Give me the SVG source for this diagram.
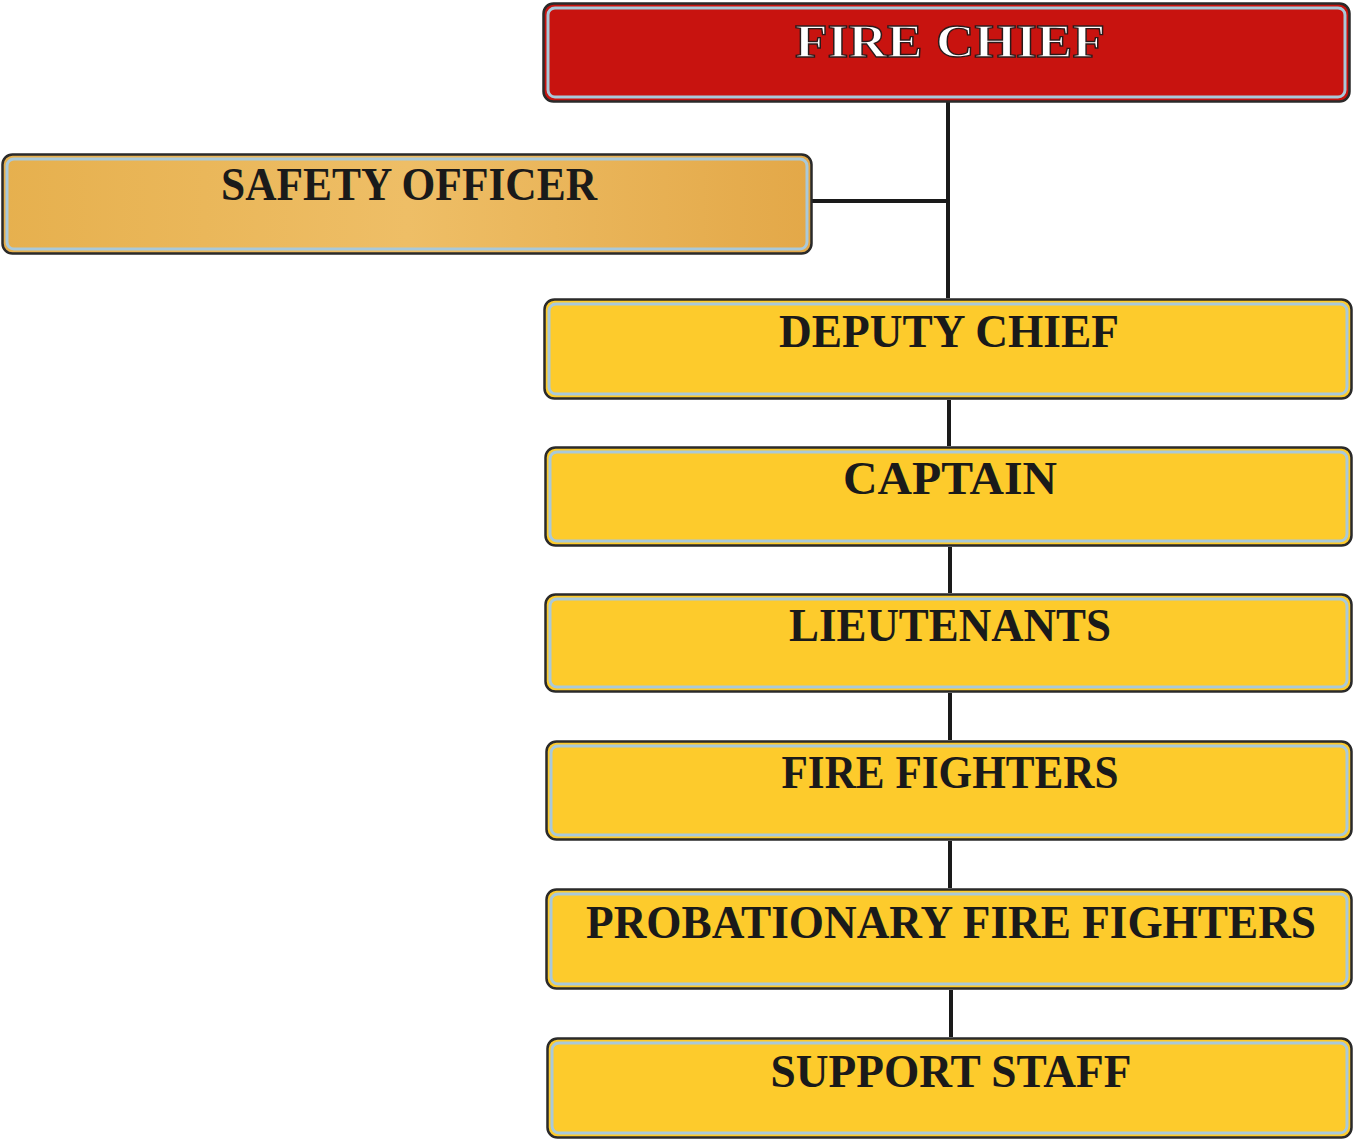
<svg xmlns="http://www.w3.org/2000/svg" width="1354" height="1140" viewBox="0 0 1354 1140">
<style>
.box{stroke:#2a2a2a;stroke-width:2.5}
.bev{fill:none;stroke:#a9c9da;stroke-width:3}
.y{fill:#fdcb2c}
.t{font-family:"Liberation Serif",serif;font-weight:bold;font-size:46px;fill:#1a1a1a;text-anchor:middle}
.w{fill:#ffffff;stroke:#2a1a1a;stroke-width:1.3}
.ln{stroke:#1a1a1a;stroke-width:4;fill:none}
</style>
<defs>
<linearGradient id="og" x1="0" y1="0" x2="1" y2="0">
<stop offset="0" stop-color="#e6b04e"/>
<stop offset="0.5" stop-color="#eebe66"/>
<stop offset="1" stop-color="#e3a848"/>
</linearGradient>
</defs>
<g id="connectors">
<path class="ln" d="M948 102 V298 M812 201 H948 M949 400 V446 M950 547 V593 M950 693 V740 M950 841 V888 M951 990 V1037"/>
</g>
<g id="fire-chief">
<rect class="box" x="543.5" y="3.5" width="806" height="98" rx="10" fill="#c8130f"/>
<rect class="bev" x="548" y="8" width="797" height="89" rx="7"/>
<text class="t w" x="950" y="57" textLength="310" lengthAdjust="spacingAndGlyphs">FIRE CHIEF</text>
</g>
<g id="safety-officer">
<rect class="box" x="2.5" y="154.5" width="809" height="99" rx="10" fill="url(#og)"/>
<rect class="bev" x="7" y="159" width="800" height="90" rx="7"/>
<text class="t" x="409" y="200" textLength="376" lengthAdjust="spacingAndGlyphs">SAFETY OFFICER</text>
</g>
<g id="deputy-chief">
<rect class="box y" x="544.5" y="299.5" width="807" height="99" rx="10"/>
<rect class="bev" x="549" y="304" width="798" height="90" rx="7"/>
<text class="t" x="949" y="347" textLength="340" lengthAdjust="spacingAndGlyphs">DEPUTY CHIEF</text>
</g>
<g id="captain">
<rect class="box y" x="545.5" y="447.5" width="806" height="98" rx="10"/>
<rect class="bev" x="550" y="452" width="797" height="89" rx="7"/>
<text class="t" x="950" y="494" textLength="214" lengthAdjust="spacingAndGlyphs">CAPTAIN</text>
</g>
<g id="lieutenants">
<rect class="box y" x="545.5" y="594.5" width="806" height="97" rx="10"/>
<rect class="bev" x="550" y="599" width="797" height="88" rx="7"/>
<text class="t" x="950" y="641" textLength="322" lengthAdjust="spacingAndGlyphs">LIEUTENANTS</text>
</g>
<g id="fire-fighters">
<rect class="box y" x="546.5" y="741.5" width="805" height="98" rx="10"/>
<rect class="bev" x="551" y="746" width="796" height="89" rx="7"/>
<text class="t" x="950" y="788" textLength="337" lengthAdjust="spacingAndGlyphs">FIRE FIGHTERS</text>
</g>
<g id="probationary-fire-fighters">
<rect class="box y" x="546.5" y="889.5" width="805" height="99" rx="10"/>
<rect class="bev" x="551" y="894" width="796" height="90" rx="7"/>
<text class="t" x="951" y="938" textLength="730" lengthAdjust="spacingAndGlyphs">PROBATIONARY FIRE FIGHTERS</text>
</g>
<g id="support-staff">
<rect class="box y" x="547.5" y="1038.5" width="804" height="99" rx="10"/>
<rect class="bev" x="552" y="1043" width="795" height="90" rx="7"/>
<text class="t" x="951" y="1087" textLength="361" lengthAdjust="spacingAndGlyphs">SUPPORT STAFF</text>
</g>
</svg>
